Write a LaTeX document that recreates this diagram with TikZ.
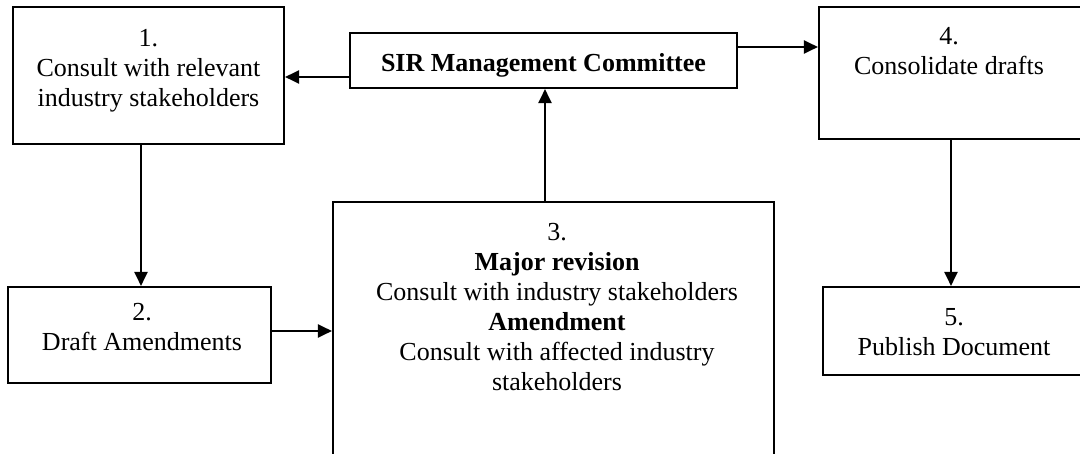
\documentclass[tikz,border=0pt]{standalone}
\usepackage{fontspec}
\setmainfont{Liberation Serif}
\usetikzlibrary{arrows.meta}
\tikzset{
  box/.style={draw, line width=2.1pt, inner sep=0pt, minimum width=#1},
  txt/.style={anchor=north, inner sep=0pt, align=center, font=\fontsize{26}{30}\selectfont},
  arr/.style={line width=2.1pt, -{Triangle[length=14pt,width=13pt]}}
}
\begin{document}
\begin{tikzpicture}[x=1pt,y=-1pt]
\clip (0,0) rectangle (1080,454);
\fill[white] (0,0) rectangle (1080,454);
% boxes
\node[box=271pt, minimum height=137pt] (b1) at (148.5,75.5) {};
\node[box=387pt, minimum height=55pt] (sir) at (543.5,60.5) {};
\node[box=271pt, minimum height=132pt] (b4) at (954.5,73) {};
\node[box=263pt, minimum height=96pt] (b2) at (139.5,335) {};
\node[box=441pt, minimum height=268pt] (b3) at (553.5,336) {};
\node[box=267pt, minimum height=88pt] (b5) at (956.5,331) {};
% texts
\node[txt] (t1) at (148.5,25) {\strut 1.\\Consult with relevant\\industry stakeholders};
\node[txt] (tsir) at (543.5,50) {\strut\textbf{SIR Management Committee}};
\node[txt] (t4) at (949,23) {\strut 4.\\Consolidate drafts};
\node[txt] (t2) at (142,299) {\strut 2.\\Draft Amendments};
\node[txt] (t3) at (557,219) {\strut 3.\\\textbf{Major revision}\\Consult with industry stakeholders\\\textbf{Amendment}\\Consult with affected industry\\stakeholders};
\node[txt] (t5) at (954,304) {\strut 5.\\Publish Document};
% connectors
\draw[arr] ([yshift=-16.5pt]sir.west) -- ([yshift=-16.5pt]sir.west -| b1.east);
\draw[arr] ([yshift=13.5pt]sir.east) -- ([yshift=13.5pt]sir.east -| b4.west);
\draw[arr] ([xshift=-8.5pt]b3.north) -- ([xshift=-8.5pt]b3.north |- sir.south);
\draw[arr] ([xshift=-7.5pt]b1.south) -- ([xshift=-7.5pt]b1.south |- b2.north);
\draw[arr] ([yshift=4pt]b2.east) -- ([yshift=4pt]b2.east -| b3.west);
\draw[arr] ([xshift=-3.5pt]b4.south) -- ([xshift=-3.5pt]b4.south |- b5.north);
\end{tikzpicture}
\end{document}
